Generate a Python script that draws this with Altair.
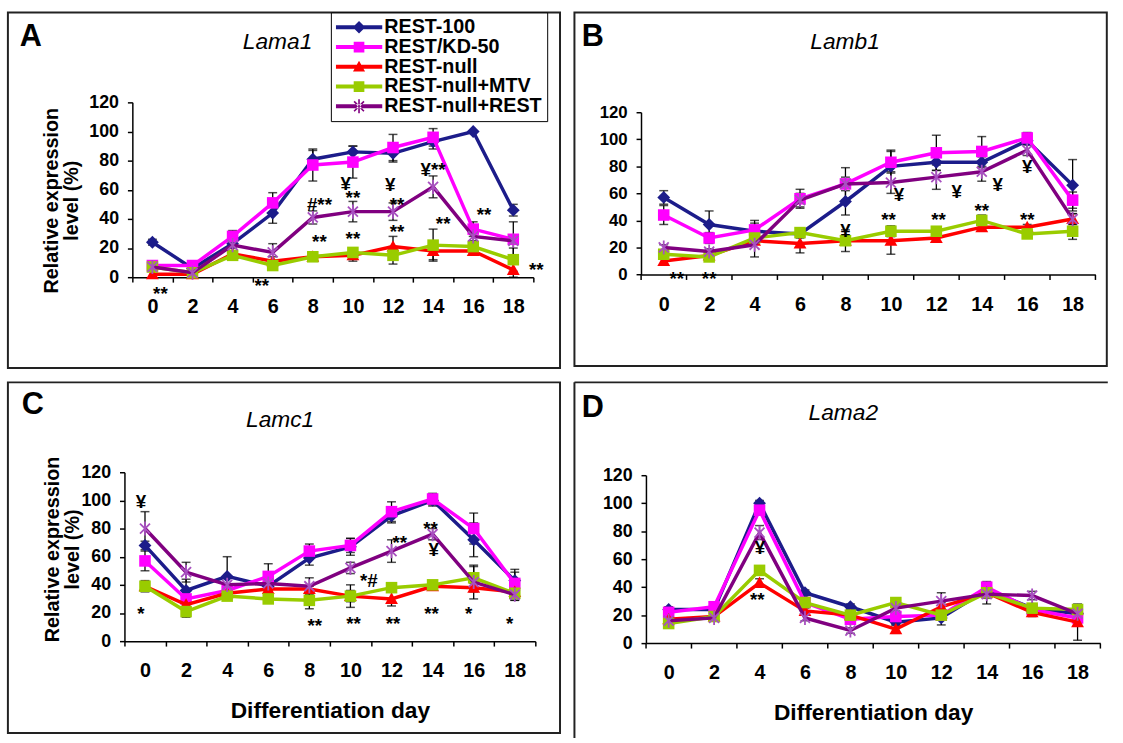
import math
import altair as alt
import pandas as pd

FONT = "Liberation Sans"

DAYS = [0, 2, 4, 6, 8, 10, 12, 14, 16, 18]
SERIES = ["REST-100", "REST/KD-50", "REST-null", "REST-null+MTV", "REST-null+REST"]
LINE_COLORS = ["#1C1C8A", "#FF00FF", "#FF0000", "#99CC00", "#800080"]
MARK_COLORS = ["#1C1C8A", "#FF00FF", "#FF0000", "#99CC00", "#A850C0"]

# ---- Lama1 (A)
LAMA1_VALUES = {
    "REST-100":       [24, 6, 23, 44, 81, 86, 85, 93, 100, 46],
    "REST/KD-50":     [8, 8, 28, 51, 77, 79, 89, 96, 33, 26],
    "REST-null":      [2, 2, 16, 11, 14, 15, 21, 18, 18, 5],
    "REST-null+MTV":  [7, 3, 15, 8, 14, 17, 15, 22, 21, 12],
    "REST-null+REST": [7, 3, 22, 17, 41, 45, 45, 62, 28, 25],
}
LAMA1_ERRORS = {
    "REST-100":       [2, 0, 5, 7, 6, 4, 6, 5, 0, 4],
    "REST/KD-50":     [2, 2, 4, 7, 11, 11, 9, 6, 5, 12],
    "REST-null":      [0, 0, 2, 3, 2, 4, 7, 6, 2, 5],
    "REST-null+MTV":  [0, 0, 2, 3, 2, 3, 6, 11, 2, 8],
    "REST-null+REST": [0, 0, 2, 6, 4.5, 7, 6, 7.5, 3, 2],
}
LAMA1_NOTES = [("**", 0.4, -9.5), ("**", 5.45, -4), ("#**", 8.33, 51.7), ("**", 8.33, 26),
               ("¥", 9.64, 66), ("**", 10, 56), ("**", 10, 28.5), ("¥", 11.86, 65),
               ("**", 12.2, 51.7), ("**", 12.2, 33), ("¥**", 14, 75.8), ("**", 14.5, 38.7),
               ("**", 16.54, 44.4), ("**", 19.15, 7)]

# ---- Lamb1 (B)
LAMB1_VALUES = {
    "REST-100":       [57, 37, 32, 30, 54, 80, 83, 83, 99, 66],
    "REST/KD-50":     [44, 27, 33, 56, 67, 83, 90, 91, 101, 55],
    "REST-null":      [10, 14, 25, 23, 25, 25, 27, 35, 35, 41],
    "REST-null+MTV":  [15, 13, 27, 31, 25, 32, 32, 40, 30, 32],
    "REST-null+REST": [20, 17, 22, 55, 67, 68, 72, 76, 92, 41],
}
LAMB1_ERRORS = {
    "REST-100":       [5, 10, 6, 3, 10, 12, 6, 4, 3, 19],
    "REST/KD-50":     [7, 4, 7, 7, 5, 8, 13, 11, 4, 6],
    "REST-null":      [2, 2, 2, 7, 8, 10, 3, 3, 2, 4],
    "REST-null+MTV":  [2, 2, 3, 3, 3, 4, 3, 4, 3, 6],
    "REST-null+REST": [2, 2, 9, 5, 12, 8, 9, 7, 4, 4],
}
LAMB1_NOTES = [("**", 0.57, -1.5), ("**", 2, -1.5), ("¥", 8, 34), ("¥", 10.35, 61),
               ("¥", 12.9, 63.4), ("¥", 14.7, 68.3), ("¥", 16, 81.7), ("**", 9.9, 42.7),
               ("**", 12.1, 42.7), ("**", 14, 48.8), ("**", 16, 42.7)]

# ---- Lamc1 (C)
LAMC1_VALUES = {
    "REST-100":       [68, 36, 46, 39, 59, 67, 89, 100, 72, 43],
    "REST/KD-50":     [57, 30, 36, 46, 64, 68, 92, 101, 80, 41],
    "REST-null":      [39, 26, 34, 37, 37, 32, 30, 39, 38, 35],
    "REST-null+MTV":  [39, 21, 32, 30, 29, 32, 38, 40, 45, 34],
    "REST-null+REST": [80, 49, 40, 41, 39, 52, 64, 76, 42, 33],
}
LAMC1_ERRORS = {
    "REST-100":       [3, 8, 14, 5, 5, 6, 5, 4, 12, 8],
    "REST/KD-50":     [7, 3, 3, 9, 5, 5, 7, 4, 11, 8],
    "REST-null":      [4, 4, 2, 2, 2, 4, 5, 2, 3, 3],
    "REST-null+MTV":  [2, 4, 2, 2, 6, 8, 2, 3, 8, 5],
    "REST-null+REST": [12, 7, 5, 5, 6, 4, 8, 4, 12, 4],
}
LAMC1_NOTES = [("¥", -0.2, 100.8), ("*", -0.2, 21), ("**", 8.26, 13), ("**", 10.15, 14),
               ("**", 12.07, 14), ("**", 13.95, 21.6), ("*", 15.76, 21), ("*", 17.75, 14),
               ("*#", 10.9, 44.5), ("**", 12.4, 71.5), ("**", 13.9, 82), ("¥", 14.05, 66.8)]

# ---- Lama2 (D)
LAMA2_VALUES = {
    "REST-100":       [24, 24, 100, 36, 26, 15, 18, 38, 25, 21],
    "REST/KD-50":     [22, 26, 95, 29, 17, 19, 20, 40, 24, 18],
    "REST-null":      [17, 19, 43, 23, 20, 10, 26, 36, 22, 15],
    "REST-null+MTV":  [14, 19, 52, 29, 20, 29, 20, 36, 25, 24],
    "REST-null+REST": [16, 18, 79, 18, 9, 25, 30, 35, 34, 21],
}
LAMA2_ERRORS = {
    "REST-100":       [2, 2, 2, 2, 2, 2, 5, 4, 3, 2],
    "REST/KD-50":     [2, 2, 3, 2, 2, 2, 2, 3, 3, 2],
    "REST-null":      [2, 2, 3, 2, 2, 3, 3, 8, 3, 13],
    "REST-null+MTV":  [2, 2, 3, 2, 2, 2, 3, 3, 2, 2],
    "REST-null+REST": [2, 2, 5, 2, 2, 2, 6, 3, 3, 2],
}
LAMA2_NOTES = [("¥", 4.02, 70), ("**", 3.9, 33)]

Y_TICKS = [0, 20, 40, 60, 80, 100, 120]
X_TICKS = [-1, 1, 3, 5, 7, 9, 11, 13, 15, 17, 19]


# ---------- marker shapes (unit paths) ----------
def bar(cx, cy, ang, arm, ht):
    dx, dy = math.cos(math.radians(ang)), math.sin(math.radians(ang))
    px, py = -dy, dx
    pts = [(cx + arm * dx + ht * px, cy + arm * dy + ht * py),
           (cx + arm * dx - ht * px, cy + arm * dy - ht * py),
           (cx - arm * dx - ht * px, cy - arm * dy - ht * py),
           (cx - arm * dx + ht * px, cy - arm * dy + ht * py)]
    return "M" + "L".join(f"{x:.3f},{y:.3f}" for x, y in pts) + "Z"


def star(arm, ht):
    return "".join(bar(0, 0, a, arm, ht) for a in (90, 45, 135))


def diamond(r):
    return f"M0,{-r}L{r},0L0,{r}L{-r},0Z"


def square(r):
    return f"M{-r},{-r}H{r}V{r}H{-r}Z"


def triangle(r):
    return f"M0,{-r}L{r},{0.78 * r}H{-r}Z"


PLOT_SHAPES = [diamond(1.0), square(0.9), triangle(1.0), square(0.9), star(1.1, 0.14)]
LEG_LINE = "M-1,-0.085H1V0.085H-1Z"
LEG_SHAPES = [LEG_LINE + diamond(0.27), LEG_LINE + square(0.23), LEG_LINE + triangle(0.26),
              LEG_LINE + square(0.23), LEG_LINE + star(0.3, 0.035)]


def long_table(values, errors):
    rows = []
    for s in SERIES:
        for d, v, e in zip(DAYS, values[s], errors[s]):
            rows.append({"day": d, "series": s, "value": v, "err": e,
                         "lo": v - e, "hi": v + e})
    return pd.DataFrame(rows)


def panel(letter, gene, values, errors, notes, W, H, xr, yr, letter_pos, gene_pos,
          ylab_size, ytitle=None, ytitle_pos=None, xtitle=None, legend_pos=None,
          full_border=True):
    """W,H: the framed box; xr=(x0,x1), yr=(ybottom,ytop): data rectangle inside it."""
    df = long_table(values, errors)
    band = (xr[1] - xr[0]) / 10.0
    xaxis = alt.Axis(values=X_TICKS,
                     labelExpr="datum.value < 18 ? '' + (datum.value + 1) : ''",
                     labelOffset=band / 2, labelFlush=False, labelOverlap=False,
                     offset=-(H - yr[0]),
                     tickSize=5, tickWidth=1.5, tickColor="black",
                     domainWidth=1.5, domainColor="black", grid=False,
                     labelFont=FONT, labelFontSize=20, labelFontWeight="bold",
                     labelColor="black", labelPadding=15,
                     title=xtitle if xtitle else None,
                     titleFont=FONT, titleFontSize=23, titleFontWeight="bold",
                     titleColor="black", titlePadding=19)
    yargs = dict(values=Y_TICKS, offset=-xr[0], tickSize=5, tickWidth=1.5,
                 tickColor="black", domainWidth=1.5, domainColor="black", grid=False,
                 labelFont=FONT, labelFontSize=ylab_size, labelFontWeight="bold",
                 labelColor="black", labelPadding=9)
    if ytitle:
        yargs.update(title=ytitle, titleFont=FONT, titleFontSize=20,
                     titleFontWeight="bold", titleColor="black",
                     titleX=ytitle_pos[0], titleY=ytitle_pos[1],
                     titleBaseline="middle", titleAlign="center", titleLineHeight=20)
    else:
        yargs.update(title=None)
    yaxis = alt.Axis(**yargs)
    xs = alt.Scale(domain=[-1, 19], range=list(xr), nice=False, zero=False)
    ys = alt.Scale(domain=[0, 120], range=list(yr), nice=False)

    def X(f):
        return alt.X(f"{f}:Q", scale=xs, axis=xaxis)

    def Y(f):
        return alt.Y(f"{f}:Q", scale=ys, axis=yaxis)

    one = pd.DataFrame({"k": [0]})
    layers = []
    if full_border:
        layers.append(alt.Chart(one).mark_rect(fill="transparent", stroke="#222222",
                                               strokeWidth=2).encode(
            x=alt.value(0), x2=alt.value(W), y=alt.value(0), y2=alt.value(H)))
    else:
        layers.append(alt.Chart(one).mark_rule(color="#222222", strokeWidth=2).encode(
            x=alt.value(0), y=alt.value(0), y2=alt.value(H)))
        layers.append(alt.Chart(one).mark_rule(color="#222222", strokeWidth=2).encode(
            x=alt.value(0), x2=alt.value(W), y=alt.value(0)))

    edf = df[df["err"] > 0]
    layers.append(alt.Chart(edf).mark_rule(color="black", strokeWidth=1.3).encode(
        x=X("day"), y=Y("lo"), y2="hi"))
    caps = pd.concat([edf.assign(cap=edf["lo"]), edf.assign(cap=edf["hi"])])
    layers.append(alt.Chart(caps).mark_tick(color="black", orient="horizontal",
                                            size=9, thickness=1.5).encode(
        x=X("day"), y=Y("cap")))

    for s, lc, mc, shp in zip(SERIES, LINE_COLORS, MARK_COLORS, PLOT_SHAPES):
        sdf = df[df["series"] == s]
        layers.append(alt.Chart(sdf).mark_line(color=lc, strokeWidth=3.5).encode(
            x=X("day"), y=Y("value")))
        layers.append(alt.Chart(sdf).mark_point(shape=shp, filled=True, color=mc,
                                                size=169, opacity=1).encode(
            x=X("day"), y=Y("value")))

    ndf = pd.DataFrame(notes, columns=["label", "pos", "level"])
    layers.append(alt.Chart(ndf).mark_text(font=FONT, fontSize=19, fontWeight="bold",
                                           color="black", baseline="middle",
                                           align="center", dy=3).encode(
        x=X("pos"), y=Y("level"), text="label:N"))

    layers.append(alt.Chart(one).mark_text(text=letter, font=FONT, fontSize=31,
                                           fontWeight="bold", color="black",
                                           align="left", baseline="alphabetic").encode(
        x=alt.value(letter_pos[0]), y=alt.value(letter_pos[1])))
    layers.append(alt.Chart(one).mark_text(text=gene, font=FONT, fontSize=23,
                                           fontStyle="italic", color="black",
                                           align="center", baseline="alphabetic").encode(
        x=alt.value(gene_pos[0]), y=alt.value(gene_pos[1])))

    if legend_pos:
        leg = alt.Legend(title=None, orient="none", legendX=legend_pos[0],
                         legendY=legend_pos[1], symbolSize=2209, clipHeight=20,
                         rowPadding=0, padding=5, labelFont=FONT, labelFontSize=20,
                         labelFontWeight="bold", labelColor="black", labelOffset=2,
                         labelLimit=300, strokeColor="black", fillColor="white",
                         symbolStrokeWidth=0, symbolOpacity=1)
        layers.append(alt.Chart(df).mark_point(filled=True, opacity=0).encode(
            x=X("day"), y=Y("value"),
            color=alt.Color("series:N", scale=alt.Scale(domain=SERIES, range=LINE_COLORS),
                            legend=leg),
            shape=alt.Shape("series:N", scale=alt.Scale(domain=SERIES, range=LEG_SHAPES),
                            legend=leg)))

    return alt.layer(*layers).properties(width=W, height=H)


YT = ["Relative expression", "level (%)"]
pa = panel("A", "Lama1", LAMA1_VALUES, LAMA1_ERRORS, LAMA1_NOTES, 559, 360,
           (126, 532), (268, 91), (12, 34), (273, 37), 18,
           ytitle=YT, ytitle_pos=(-81.5, 190), legend_pos=(327, 0))
pb = panel("B", "Lamb1", LAMB1_VALUES, LAMB1_ERRORS, LAMB1_NOTES, 539, 358,
           (67.4, 527.4), (265.3, 101), (7.4, 33.7), (274, 37), 17)
pc = panel("C", "Lamc1", LAMC1_VALUES, LAMC1_ERRORS, LAMC1_NOTES, 559, 355,
           (118, 534), (262, 91), (14, 32), (275.6, 45), 18,
           ytitle=YT, ytitle_pos=(-72.4, 168.7), xtitle="Differentiation day")
pd_ = panel("D", "Lama2", LAMA2_VALUES, LAMA2_ERRORS, LAMA2_NOTES, 540, 360,
            (72.4, 532.4), (264, 94), (7.4, 35), (272.2, 38), 18,
            xtitle="Differentiation day", full_border=False)

chart = alt.vconcat(
    alt.hconcat(pa, pb, spacing=12.6),
    alt.hconcat(pc, pd_, spacing=12.6),
    spacing=12.5,
).properties(
    padding={"left": 7, "top": 7, "right": 0, "bottom": 0},
    background="white",
).configure_view(stroke=None)

chart.save("out.html", embed_options={"renderer": "svg", "actions": False})
